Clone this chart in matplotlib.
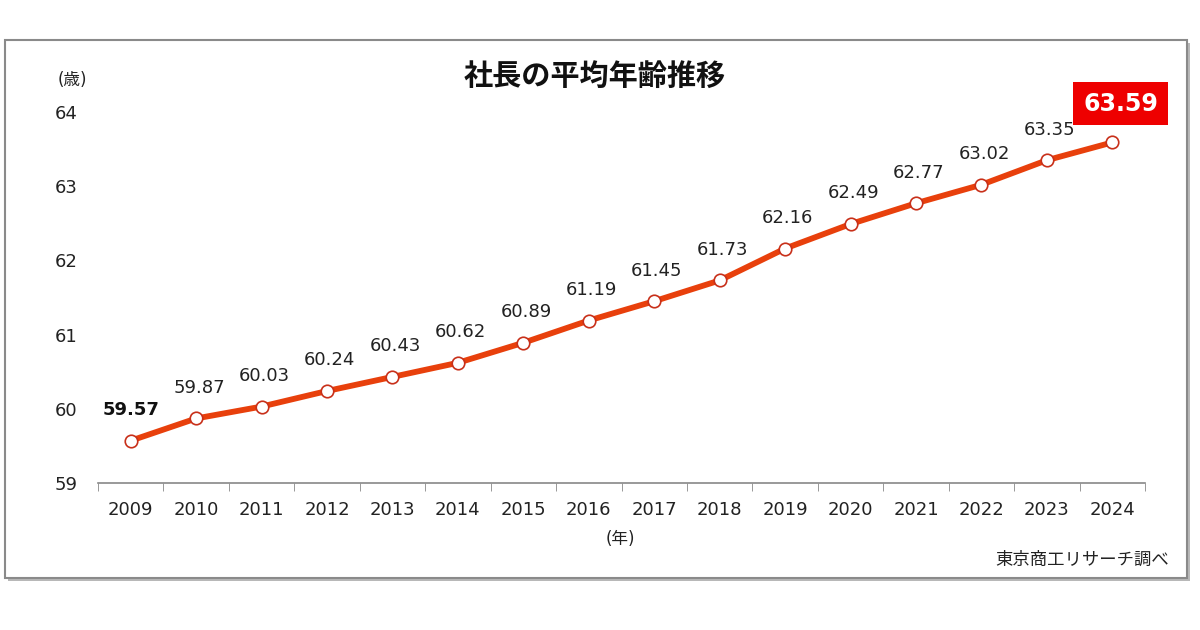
import matplotlib.pyplot as plt
from matplotlib.patches import Rectangle

plt.rcParams['font.family'] = ['DejaVu Sans', 'Noto Sans CJK JP']

years = ['2009', '2010', '2011', '2012', '2013', '2014', '2015', '2016',
         '2017', '2018', '2019', '2020', '2021', '2022', '2023', '2024']
ages = [59.57, 59.87, 60.03, 60.24, 60.43, 60.62, 60.89, 61.19,
        61.45, 61.73, 62.16, 62.49, 62.77, 63.02, 63.35, 63.59]
yticks = [59, 60, 61, 62, 63, 64]

line_col = '#E8400C'

fig = plt.figure(figsize=(12, 6.3), dpi=100)

# chart frame with shadow
fig.patches.append(Rectangle((8 / 1200, 1 - 581 / 630), 1182 / 1200, 538 / 630,
                             transform=fig.transFigure, facecolor='#b8b8b8',
                             edgecolor='none', zorder=-2))
fig.patches.append(Rectangle((5 / 1200, 1 - 578 / 630), 1182 / 1200, 538 / 630,
                             transform=fig.transFigure, facecolor='white',
                             edgecolor='#8a8a8a', linewidth=1.5, zorder=-1))

ax = fig.add_axes([98 / 1200, 1 - 483 / 630, 1047 / 1200, 371 / 630])
ax.set_zorder(5)
ax.set_facecolor('none')
x = list(range(len(years)))
ax.plot(x, ages, color=line_col, linewidth=4.2, marker='o', markersize=9,
        markerfacecolor='white', markeredgecolor='#C8301A', markeredgewidth=1.2,
        zorder=3)

ax.set_xlim(-0.5, len(years) - 0.5)
ax.set_ylim(59, 64)
ax.set_yticks(yticks)
ax.set_yticklabels([str(t) for t in yticks], fontsize=13, color='#222222')
ax.set_xticks(x)
ax.set_xticklabels(years, fontsize=13, color='#222222')
ax.set_xticks([i - 0.5 for i in range(len(years) + 1)], minor=True)
ax.tick_params(axis='x', which='major', length=0, pad=13)
ax.tick_params(axis='x', which='minor', length=6, color='#888888', direction='out')
ax.tick_params(axis='y', length=0, pad=15)
for s in ['top', 'right', 'left']:
    ax.spines[s].set_visible(False)
ax.spines['bottom'].set_color('#888888')
ax.spines['bottom'].set_linewidth(1.2)

for i, v in enumerate(ages):
    if i == 0:
        ax.annotate(f'{v:.2f}', (i, v), xytext=(0, 22), textcoords='offset points',
                    ha='center', va='center', fontsize=13, fontweight='bold',
                    color='#111111')
    elif i == len(ages) - 1:
        ax.annotate(f'{v:.2f}', (i, v), xytext=(6, 28), textcoords='offset points',
                    ha='center', va='center', fontsize=17, fontweight='bold',
                    color='white',
                    bbox=dict(boxstyle='square,pad=0.42', facecolor='#EE0000',
                              edgecolor='none'))
    else:
        ax.annotate(f'{v:.2f}', (i, v), xytext=(2, 22), textcoords='offset points',
                    ha='center', va='center', fontsize=13, color='#222222')

fig.text(595 / 1200, 1 - 77 / 630, '社長の平均年齢推移', ha='center', va='center',
         fontsize=21, fontweight='bold', color='#111111')
fig.text(72 / 1200, 1 - 80 / 630, '(歳)', ha='center', va='center',
         fontsize=12, color='#222222')
fig.text(620 / 1200, 1 - 539 / 630, '(年)', ha='center', va='center',
         fontsize=12, color='#222222')
fig.text(1169 / 1200, 1 - 560 / 630, '東京商工リサーチ調べ', ha='right', va='center',
         fontsize=12.5, color='#222222')

fig.savefig('out.png', dpi=100)
